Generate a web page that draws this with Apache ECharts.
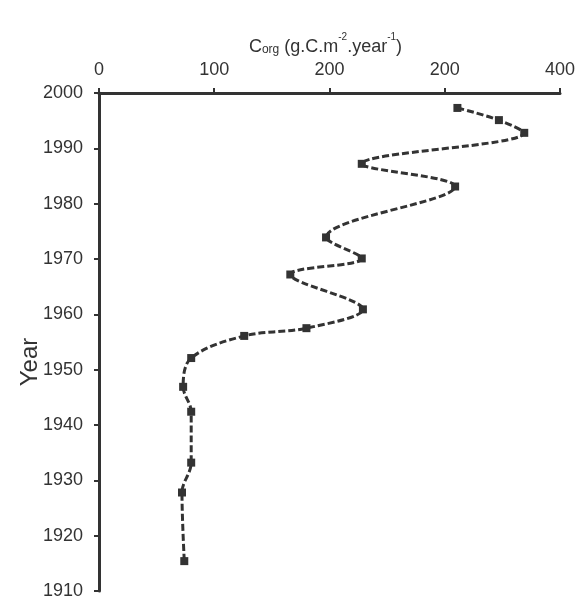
<!DOCTYPE html>
<html><head><meta charset="utf-8">
<script src="https://cdn.jsdelivr.net/npm/echarts@6/dist/echarts.min.js"></script>
<style>html,body{margin:0;padding:0;background:#fff}#c{width:578px;height:600px}</style>
</head><body><div id="c"></div>
<script>
// Data
var years = [1997.3, 1995.1, 1992.8, 1987.2, 1983.1, 1973.9, 1970.1, 1967.2, 1960.9, 1957.5, 1956.1, 1952.1, 1946.9, 1942.4, 1933.2, 1927.8, 1915.4];
var corg  = [311, 347, 369, 228, 309, 197, 228, 166, 229, 180, 126, 80, 73, 80, 80, 72, 74];
var xTickLabels = ["0", "100", "200", "200", "400"];
var xTickValues = [0, 100, 200, 300, 400];

var pts = years.map(function (y, i) { return [corg[i], y]; });
var ink = '#333333';
var font = 'Liberation Sans, Arial, sans-serif';

var chart = echarts.init(document.getElementById('c'));
chart.setOption({
  animation: false,
  backgroundColor: '#ffffff',
  grid: { left: 99, top: 93, right: 15, bottom: 7 },
  xAxis: {
    type: 'value', position: 'top', min: 0, max: 400, interval: 100,
    splitLine: { show: false },
    axisLine: { show: true, onZero: false, lineStyle: { color: ink, width: 3 } },
    axisTick: { show: true, length: 5, lineStyle: { color: ink, width: 2 } },
    axisLabel: {
      margin: 14, fontSize: 18, color: ink, fontFamily: font,
      formatter: function (v) { var k = xTickValues.indexOf(v); return k >= 0 ? xTickLabels[k] : ''; }
    },
    name: '{c|C}{sub|org}{t| (g.C.m}{sup|-2}{t|.year}{sup|-1}{t|)}',
    nameLocation: 'middle', nameGap: 37, nameMoveOverlap: false,
    nameTextStyle: {
      color: ink, fontFamily: font, lineHeight: 24, padding: [0, 8, 0, 0],
      rich: {
        c: { fontSize: 18, color: ink, fontFamily: font, lineHeight: 24, verticalAlign: 'bottom' },
        t: { fontSize: 18, color: ink, fontFamily: font, lineHeight: 24, verticalAlign: 'bottom' },
        sub: { fontSize: 12, color: ink, fontFamily: font, lineHeight: 12, verticalAlign: 'bottom' },
        sup: { fontSize: 10, color: ink, fontFamily: font, lineHeight: 14, verticalAlign: 'top' }
      }
    }
  },
  yAxis: {
    type: 'value', min: 1910, max: 2000, interval: 10,
    splitLine: { show: false },
    axisLine: { show: true, onZero: false, lineStyle: { color: ink, width: 3 } },
    axisTick: { show: true, length: 5, lineStyle: { color: ink, width: 2 } },
    axisLabel: { margin: 16, fontSize: 18, color: ink, fontFamily: font,
      formatter: function (v) { return String(v); } },
    name: 'Year', nameLocation: 'middle', nameGap: 57, nameRotate: 90, nameMoveOverlap: false,
    nameTextStyle: { fontSize: 24, color: ink, fontFamily: font, padding: [0, 40, 0, 0] }
  },
  series: [{
    type: 'line', data: pts, smooth: 0.35,
    symbol: 'rect', symbolSize: 8,
    itemStyle: { color: ink },
    lineStyle: { color: ink, width: 3, type: [7, 3] }
  }]
});
</script></body></html>
